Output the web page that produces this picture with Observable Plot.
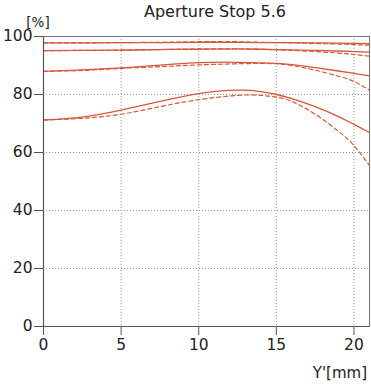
<!DOCTYPE html>
<html><head><meta charset="utf-8">
<script src="https://cdn.jsdelivr.net/npm/d3@7"></script>
<script src="https://cdn.jsdelivr.net/npm/@observablehq/plot@0.6"></script>
<style>body{margin:0;background:#fff}</style>
</head><body><div id="chart"></div>
<script>
const xs     = [0, 2.5, 5, 7.5, 10, 12.5, 14, 15, 16, 17.5, 19, 20, 21];
const solid1 = [97.8, 97.8, 97.9, 97.9, 98.0, 98.0, 97.9, 97.9, 97.9, 97.8, 97.7, 97.6, 97.5];
const dash1  = [97.8, 97.8, 97.9, 98.0, 98.2, 98.2, 98.0, 97.9, 97.8, 97.6, 97.4, 97.2, 97.0];
const solid2 = [95.1, 95.2, 95.3, 95.5, 95.6, 95.7, 95.6, 95.5, 95.4, 95.2, 95.0, 94.8, 94.6];
const dash2  = [95.1, 95.2, 95.3, 95.5, 95.7, 95.7, 95.6, 95.4, 95.2, 94.8, 94.3, 93.8, 93.2];
const solid3 = [88.0, 88.5, 89.2, 90.1, 91.0, 91.1, 90.9, 90.7, 90.3, 89.3, 88.1, 87.3, 86.4];
const dash3  = [88.0, 88.3, 89.0, 89.6, 90.2, 90.6, 90.7, 90.6, 90.0, 88.4, 86.3, 84.5, 81.5];
const solid4 = [71.2, 72.2, 74.6, 77.6, 80.3, 81.5, 81.0, 80.0, 78.6, 75.8, 72.4, 69.7, 66.9];
const dash4  = [71.2, 71.8, 73.2, 75.8, 78.2, 79.7, 79.7, 79.1, 77.6, 73.2, 67.3, 62.4, 55.5];
const xTicks = [0, 5, 10, 15, 20];
const yTicks = [0, 20, 40, 60, 80, 100];
const title = "Aperture Stop 5.6";
const yUnit = "[%]";
const xUnit = "Y'[mm]";

const red = "#d8563a";
const toRows = (ys) => xs.map((x, i) => ({x, y: ys[i]}));
const solids = [solid1, solid2, solid3, solid4];
const dashes = [dash1, dash2, dash3, dash4];

const marks = [
  Plot.ruleX(xTicks.filter(d => d > 0), {stroke: "#999", strokeDasharray: "1,2", strokeWidth: 1}),
  Plot.ruleY(yTicks.filter(d => d > 0 && d < 100), {stroke: "#999", strokeDasharray: "1,2", strokeWidth: 1}),
  Plot.frame({stroke: "#777", strokeWidth: 1}),
  ...dashes.map(ys => Plot.line(toRows(ys), {x: "x", y: "y", stroke: red, strokeWidth: 1.2, strokeDasharray: "4,3", curve: "natural"})),
  ...solids.map(ys => Plot.line(toRows(ys), {x: "x", y: "y", stroke: red, strokeWidth: 1.3, curve: "natural"})),
  Plot.ruleX([0], {stroke: "#555", strokeWidth: 1.2}),
  Plot.ruleY([0], {stroke: "#555", strokeWidth: 1.2}),
  Plot.axisX({ticks: xTicks, tickSize: 9, tickPadding: 3, label: null, stroke: "#555", fill: "#222"}),
  Plot.axisY({ticks: yTicks, tickSize: 9, tickPadding: 2, label: null, stroke: "#555", fill: "#222"})
];

const svg = Plot.plot({
  width: 371, height: 386,
  marginLeft: 43, marginRight: 2, marginTop: 36, marginBottom: 60,
  style: {fontFamily: "DejaVu Sans", fontSize: "15.5px", background: "#fff"},
  x: {domain: [0, 21]},
  y: {domain: [0, 100]},
  marks
});

const s = d3.select(svg);
s.append("text").attr("x", 215).attr("y", 17).attr("text-anchor", "middle")
  .attr("font-family", "DejaVu Sans").attr("font-size", 16).attr("fill", "#222").text(title);
s.append("text").attr("x", 38).attr("y", 27)
  .attr("font-family", "DejaVu Sans").attr("font-size", 13.5).attr("fill", "#222").text(yUnit);
s.append("text").attr("x", 367).attr("y", 378).attr("text-anchor", "end")
  .attr("font-family", "DejaVu Sans").attr("font-size", 15).attr("fill", "#222").text(xUnit);
document.getElementById("chart").appendChild(svg);
</script></body></html>
